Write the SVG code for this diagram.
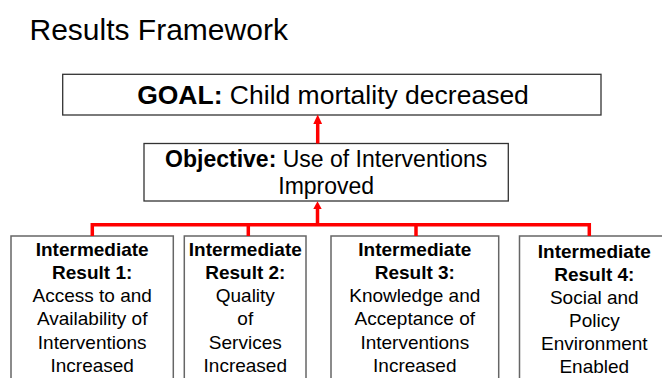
<svg xmlns="http://www.w3.org/2000/svg" width="662" height="378" viewBox="0 0 662 378">
<style>
text{font-family:"Liberation Sans",Arial,sans-serif;fill:#000}
.box{fill:#fff;stroke:#333;stroke-width:1.3}
.ir{fill:#fff;stroke:#666;stroke-width:1.5}
.b{font-weight:bold}
.irt{font-size:19px;text-anchor:middle}
.conn{fill:none;stroke:#f00;stroke-width:3.5}
.head{fill:#f00}
</style>
<rect width="662" height="378" fill="#fff"/>
<text x="29.5" y="40" font-size="30">Results Framework</text>

<g id="goal">
<rect class="box" x="62.7" y="74.3" width="538.3" height="40.7"/>
<text x="333" y="104.3" font-size="26.5" text-anchor="middle"><tspan class="b">GOAL:</tspan> Child mortality decreased</text>
</g>

<g id="objective">
<rect class="box" x="144" y="143.5" width="364.3" height="57.5"/>
<text x="326.2" y="167.3" font-size="23" text-anchor="middle"><tspan class="b">Objective:</tspan> Use of Interventions</text>
<text x="326.2" y="194" font-size="23" text-anchor="middle">Improved</text>
</g>

<g id="ir1">
<rect class="ir" x="11" y="236" width="162.3" height="160"/>
<text class="irt b" x="92.2" y="255.8">Intermediate</text>
<text class="irt b" x="92.2" y="279">Result 1:</text>
<text class="irt" x="92.2" y="302.2">Access to and</text>
<text class="irt" x="92.2" y="325.4">Availability of</text>
<text class="irt" x="92.2" y="348.6">Interventions</text>
<text class="irt" x="92.2" y="371.8">Increased</text>
</g>

<g id="ir2">
<rect class="ir" x="184.3" y="236" width="121.7" height="160"/>
<text class="irt b" x="245.3" y="255.8">Intermediate</text>
<text class="irt b" x="245.3" y="279">Result 2:</text>
<text class="irt" x="245.3" y="302.2">Quality</text>
<text class="irt" x="245.3" y="325.4">of</text>
<text class="irt" x="245.3" y="348.6">Services</text>
<text class="irt" x="245.3" y="371.8">Increased</text>
</g>

<g id="ir3">
<rect class="ir" x="331" y="236" width="167.7" height="160"/>
<text class="irt b" x="414.8" y="255.8">Intermediate</text>
<text class="irt b" x="414.8" y="279">Result 3:</text>
<text class="irt" x="414.8" y="302.2">Knowledge and</text>
<text class="irt" x="414.8" y="325.4">Acceptance of</text>
<text class="irt" x="414.8" y="348.6">Interventions</text>
<text class="irt" x="414.8" y="371.8">Increased</text>
</g>

<g id="ir4">
<rect class="ir" x="519.5" y="236" width="160" height="160"/>
<text class="irt b" x="594.3" y="258.3">Intermediate</text>
<text class="irt b" x="594.3" y="281.2">Result 4:</text>
<text class="irt" x="594.3" y="304.1">Social and</text>
<text class="irt" x="594.3" y="327">Policy</text>
<text class="irt" x="594.3" y="349.9">Environment</text>
<text class="irt" x="594.3" y="372.8">Enabled</text>
</g>

<g id="connectors">
<path class="conn" d="M317.7 143.5 V122"/>
<polygon class="head" points="317.7,114.5 313.3,124 322.1,124"/>
<path class="conn" d="M317.5 224.8 V207"/>
<polygon class="head" points="317.5,201.2 313.3,209 321.7,209"/>
<path class="conn" d="M92.3 236 V224.8 H589.3 V236"/>
<path class="conn" d="M248.3 224.8 V236"/>
<path class="conn" d="M416 224.8 V236"/>
</g>
</svg>
